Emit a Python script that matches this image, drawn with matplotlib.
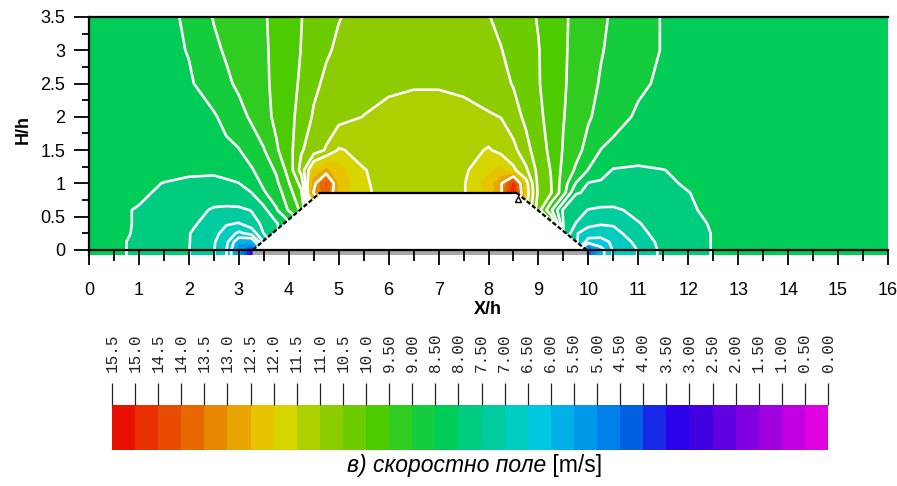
import numpy as np
import matplotlib
matplotlib.use("Agg")
import matplotlib.pyplot as plt
from matplotlib.patches import Polygon, Rectangle

plt.rcParams['font.family'] = ['Liberation Sans', 'DejaVu Sans']

# grid nodes (X/h, H/h)
x_h = [0, 0.5, 1, 1.5, 2, 2.5, 2.75, 3, 3.25, 3.5, 3.75, 4, 4.25, 4.5, 4.75, 5,
       5.5, 6, 6.5, 7, 7.5, 8, 8.25, 8.5, 8.75, 9, 9.25, 9.5, 9.75, 10, 10.25,
       10.5, 11, 11.5, 12, 12.5, 13, 14, 16]
y_h = [-0.1, 0, 0.12, 0.25, 0.4, 0.6, 0.86, 1.0, 1.2, 1.5, 2.0, 2.5, 3.0, 3.5]

# speed [m/s], one row per y_h value
speed = [
    [8.2, 8.04, 7.96, 7.72, 7.51, 7.02, 6.52, 5.2, 3.3, 6.5, 7.5, 8.5, 9.0, 9.0, 9.0, 9.0, 9.0, 9.0, 9.0, 9.0, 9.0, 9.0, 9.0, 9.0, 9.0, 9.0, 9.0, 7.5, 6.5, 4.0, 5.8, 6.55, 7.02, 7.65, 7.82, 8.02, 8.1, 8.18, 8.25],
    [8.2, 8.04, 7.96, 7.72, 7.51, 7.02, 6.52, 5.2, 3.3, 6.5, 7.5, 8.5, 9.0, 9.0, 9.0, 9.0, 9.0, 9.0, 9.0, 9.0, 9.0, 9.0, 9.0, 9.0, 9.0, 9.0, 9.0, 7.5, 6.5, 4.0, 5.8, 6.55, 7.02, 7.65, 7.82, 8.02, 8.1, 8.18, 8.25],
    [8.2, 8.04, 7.96, 7.72, 7.52, 7.05, 6.62, 5.6, 5.5, 7.02, 7.75, 8.45, 9.0, 9.0, 9.0, 9.0, 9.0, 9.0, 9.0, 9.0, 9.0, 9.0, 9.0, 9.0, 9.0, 9.0, 9.0, 7.52, 7.1, 6.3, 6.3, 6.6, 7.15, 7.68, 7.82, 8.02, 8.1, 8.18, 8.25],
    [8.2, 8.04, 7.98, 7.75, 7.52, 7.15, 6.8, 6.4, 6.65, 7.52, 7.9, 8.4, 8.8, 9.3, 9.9, 10.4, 10.9, 10.9, 10.9, 10.9, 11.1, 11.3, 11.4, 11.4, 11.2, 10.8, 10.1, 8.05, 7.05, 6.75, 6.7, 6.8, 7.35, 7.72, 7.82, 8.02, 8.1, 8.18, 8.25],
    [8.2, 8.05, 7.98, 7.8, 7.58, 7.35, 7.05, 6.98, 7.3, 7.6, 7.95, 8.4, 8.8, 9.4, 10.4, 10.9, 11.2, 11.1, 11.1, 11.1, 11.2, 11.7, 12.2, 12.3, 11.6, 10.8, 10.2, 7.98, 7.49, 7.15, 7.05, 7.08, 7.48, 7.68, 7.85, 8.05, 8.1, 8.18, 8.25],
    [8.2, 8.05, 7.98, 7.88, 7.78, 7.42, 7.38, 7.4, 7.52, 7.85, 8.45, 9.05, 9.6, 11.4, 12.6, 12.3, 11.6, 11.3, 11.2, 11.2, 11.45, 12.1, 12.9, 13.6, 11.6, 10.2, 9.1, 7.92, 7.68, 7.48, 7.42, 7.42, 7.62, 7.78, 7.97, 8.05, 8.12, 8.2, 8.25],
    [8.2, 8.12, 8.05, 7.95, 7.91, 7.9, 7.91, 7.94, 7.99, 8.45, 8.75, 9.3, 9.93, 13.05, 13.8, 12.3, 11.6, 11.3, 11.2, 11.2, 11.45, 12.1, 12.9, 15.1, 11.8, 10.4, 10.05, 9.2, 8.03, 7.95, 7.9, 7.86, 7.85, 7.89, 7.99, 8.12, 8.18, 8.22, 8.25],
    [8.2, 8.15, 8.08, 7.99, 7.95, 7.94, 7.96, 7.99, 8.24, 8.59, 8.9, 9.47, 10.15, 12.8, 14.1, 12.3, 11.55, 11.35, 11.25, 11.25, 11.45, 12.2, 12.9, 14.6, 11.7, 10.35, 10.02, 9.25, 8.48, 7.97, 7.94, 7.91, 7.89, 7.92, 8.05, 8.15, 8.2, 8.23, 8.25],
    [8.2, 8.18, 8.15, 8.1, 8.05, 8.04, 8.08, 8.2, 8.45, 8.74, 9.06, 9.68, 10.69, 12.1, 12.6, 12.2, 11.52, 11.35, 11.25, 11.25, 11.4, 11.9, 12.1, 11.6, 11.1, 10.33, 9.98, 9.36, 8.93, 8.48, 8.18, 7.97, 7.92, 7.99, 8.1, 8.17, 8.2, 8.23, 8.25],
    [8.2, 8.2, 8.22, 8.25, 8.3, 8.37, 8.42, 8.48, 8.72, 8.97, 9.44, 9.79, 10.45, 10.74, 11.05, 11.55, 11.35, 11.3, 11.25, 11.25, 11.3, 11.55, 11.35, 11.15, 10.66, 10.24, 9.89, 9.46, 9.16, 8.83, 8.49, 8.38, 8.28, 8.26, 8.25, 8.25, 8.25, 8.25, 8.25],
    [8.2, 8.22, 8.27, 8.32, 8.38, 8.46, 8.61, 8.83, 9.07, 9.34, 9.6, 9.84, 10.18, 10.56, 10.72, 10.82, 11.01, 11.15, 11.22, 11.22, 11.15, 11.05, 10.99, 10.69, 10.4, 10.11, 9.82, 9.52, 9.28, 9.05, 8.86, 8.68, 8.43, 8.36, 8.32, 8.29, 8.27, 8.25, 8.25],
    [8.2, 8.25, 8.3, 8.36, 8.45, 8.7, 8.91, 9.09, 9.25, 9.42, 9.6, 9.82, 10.07, 10.39, 10.6, 10.7, 10.82, 10.9, 10.95, 10.95, 10.9, 10.75, 10.63, 10.47, 10.25, 10.03, 9.79, 9.55, 9.34, 9.14, 8.96, 8.83, 8.58, 8.42, 8.35, 8.3, 8.27, 8.25, 8.25],
    [8.2, 8.25, 8.3, 8.38, 8.52, 8.9, 9.06, 9.19, 9.31, 9.44, 9.6, 9.81, 10.01, 10.22, 10.44, 10.58, 10.72, 10.82, 10.87, 10.87, 10.8, 10.65, 10.52, 10.33, 10.17, 10.02, 9.78, 9.56, 9.37, 9.2, 9.03, 8.9, 8.69, 8.47, 8.38, 8.32, 8.28, 8.25, 8.25],
    [8.2, 8.25, 8.3, 8.42, 8.55, 9.03, 9.14, 9.25, 9.35, 9.46, 9.61, 9.8, 9.99, 10.15, 10.32, 10.48, 10.65, 10.75, 10.8, 10.8, 10.7, 10.52, 10.38, 10.25, 10.12, 9.97, 9.77, 9.57, 9.39, 9.23, 9.08, 8.94, 8.69, 8.47, 8.38, 8.32, 8.28, 8.25, 8.25],
]

# embankment outline (X/h, H/h)
body_x = [3.28, 4.63, 8.56, 9.96]
body_y = [0, 0.86, 0.86, 0]

# colour scale: 0 ... 15.5 m/s in 0.5 steps, colours from low to high
levels = [i * 0.5 for i in range(32)]
band_colors = ['#e000e0', '#c000e0', '#a000e0', '#8000e0', '#6000e0', '#4000e0',
               '#2c00e8', '#1828e8', '#0060e0', '#0080e8', '#0098e8', '#00b0e8',
               '#00c8e0', '#00ccc0', '#00cca0', '#00cc80', '#00cc58', '#14cc3c',
               '#30cc20', '#4ccc00', '#6ccc00', '#8ccc00', '#acd000', '#d8d400',
               '#e8c400', '#e8a400', '#e88800', '#e86800', '#e84c00', '#e83000',
               '#e81000']
line_levels = [6, 6.5, 7, 7.5, 8, 8.5, 9, 9.5, 10, 10.5, 11, 11.5, 13]

fig = plt.figure(figsize=(8.97, 4.86), dpi=100)
ax = fig.add_axes([89 / 897, 1 - 255.3 / 486, 799 / 897, (255.3 - 17) / 486])

X, Y = np.meshgrid(x_h, y_h)
Z = np.array(speed)
cf = ax.contourf(X, Y, Z, levels=levels, colors=band_colors, zorder=1)
ax.contour(X, Y, Z, levels=line_levels, colors='white', linewidths=1.9, zorder=2)

# the embankment itself
poly = [(body_x[0], -0.1)] + list(zip(body_x, body_y)) + [(body_x[-1], -0.1)]
ax.add_patch(Polygon(poly, closed=True, fc='white', ec='none', zorder=3))
ax.add_patch(Rectangle((body_x[0], -0.08), body_x[-1] - body_x[0], 0.08,
                       fc='#a8a8a8', ec='none', zorder=3.5))
ax.plot(body_x[1:3], body_y[1:3], color='k', lw=1.6, zorder=4)
ax.plot(body_x[:2], body_y[:2], color='k', lw=1.6, ls=(0, (2, 1)), zorder=4)
ax.plot(body_x[2:], body_y[2:], color='k', lw=1.6, ls=(0, (2, 1)), zorder=4)
ax.plot([8.6], [0.76], marker='^', ms=4, mfc='none', mec='k', mew=1, zorder=4)

ax.set_xlim(0, 16)
ax.set_ylim(-0.08, 3.5)
ax.spines['right'].set_visible(False)
ax.spines['bottom'].set_position(('data', 0))
for s in ['top', 'left', 'bottom']:
    ax.spines[s].set_linewidth(1.6)
    ax.spines[s].set_zorder(6)
ax.xaxis.set_zorder(6)
ax.yaxis.set_zorder(6)

ax.set_xticks(range(17))
ax.set_xticklabels([str(i) for i in range(17)])
ax.set_xticks([i * 0.5 for i in range(33)], minor=True)
ax.set_yticks([i * 0.5 for i in range(8)])
ax.set_yticklabels(['0', '0.5', '1', '1.5', '2', '2.5', '3', '3.5'])
ax.set_yticks([i * 0.25 for i in range(15)], minor=True)
ax.tick_params(axis='x', which='major', direction='out', length=11, width=1.3,
               pad=12, labelsize=13)
ax.tick_params(axis='x', which='minor', direction='out', length=8, width=1.3)
ax.tick_params(axis='y', which='major', direction='out', length=11, width=1.3,
               pad=6, labelsize=13)
ax.tick_params(axis='y', which='minor', direction='out', length=5, width=1.3)

fig.text(488 / 897, 1 - 310 / 486, 'X/h', fontsize=13, fontweight='bold',
         ha='center', va='center')
fig.text(23 / 897, 1 - 130 / 486, 'H/h', fontsize=13, fontweight='bold',
         ha='center', va='center', rotation=90)

# colour bar, high values on the left
cax = fig.add_axes([112 / 897, 1 - 450 / 486, 716 / 897, 45 / 486])
cb = fig.colorbar(cf, cax=cax, orientation='horizontal', ticks=levels)
cb.outline.set_visible(False)
cax.invert_xaxis()
cax.xaxis.set_ticks_position('top')
cb.set_ticklabels([f"{v:.1f}" if v >= 10 else f"{v:.2f}" for v in levels])
cax.tick_params(axis='x', direction='out', length=16, width=0.9, color='#222222',
                pad=8, labelsize=11.5, labelrotation=90, labelcolor='#222222')
for t in cax.get_xticklabels():
    t.set_family(['Liberation Mono', 'DejaVu Sans Mono'])

t1 = fig.text(347 / 897, 1 - 472 / 486, 'в) скоростно поле', fontsize=16.5,
              style='italic', va='baseline')
ax.annotate(' [m/s]', xy=(1, 0), xycoords=t1, va='bottom', ha='left',
            fontsize=16.5, annotation_clip=False)

fig.savefig('out.png', dpi=100)
